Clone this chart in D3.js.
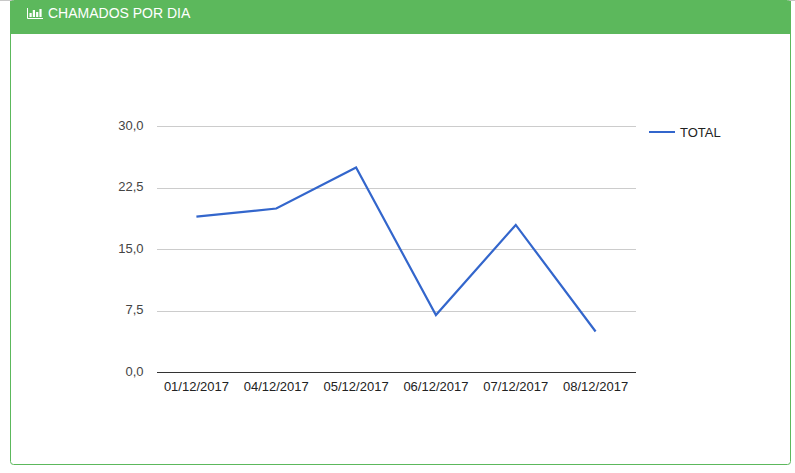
<!DOCTYPE html>
<html>
<head>
<meta charset="utf-8">
<script src="https://cdn.jsdelivr.net/npm/d3@7"></script>
<style>
  html, body { margin: 0; padding: 0; background: #fff; overflow: hidden; }
  text { font-family: "Liberation Sans", Arial, sans-serif; }
</style>
</head>
<body>
<div id="chart"></div>
<script>
// chart values
const days = ["01/12/2017", "04/12/2017", "05/12/2017", "06/12/2017", "07/12/2017", "08/12/2017"];
const total = [19, 20, 25, 7, 18, 5];
const yTicks = [0, 7.5, 15, 22.5, 30];
const seriesName = "TOTAL";
const panelTitle = "CHAMADOS POR DIA";
const iconBars = [4, 7, 5, 8];

const fullWidth = 795;
const fullHeight = 473;
const margin = { top: 126, right: 159, bottom: 101, left: 157 };
const width = fullWidth - margin.left - margin.right;
const height = fullHeight - margin.top - margin.bottom;

const svg = d3.select("#chart")
  .append("svg")
  .attr("width", fullWidth)
  .attr("height", fullHeight)
  .style("display", "block");

// strip of the page above the panel
svg.append("rect")
  .attr("width", fullWidth)
  .attr("height", 1)
  .attr("fill", "#c8c8c8");

// panel
svg.append("rect")
  .attr("x", 10.5)
  .attr("y", 0.5)
  .attr("width", 780)
  .attr("height", 464)
  .attr("rx", 3)
  .attr("fill", "#fff")
  .attr("stroke", "#5cb85c");

svg.append("rect")
  .attr("x", 10)
  .attr("y", 1)
  .attr("width", 781)
  .attr("height", 33)
  .attr("fill", "#5cb85c");

// bar chart icon in the header
const icon = svg.append("g").attr("transform", "translate(27,18)");
icon.append("path")
  .attr("d", "M0.5,-10V0.5H16")
  .attr("fill", "none")
  .attr("stroke", "#fff")
  .attr("stroke-width", 1);
icon.selectAll("rect")
  .data(iconBars)
  .enter()
  .append("rect")
  .attr("x", (d, i) => 2.5 + i * 3.3)
  .attr("y", d => -1 - d)
  .attr("width", 2.2)
  .attr("height", d => d)
  .attr("fill", "#fff");

svg.append("text")
  .attr("x", 48)
  .attr("y", 18)
  .attr("fill", "#fff")
  .attr("font-size", 14)
  .text(panelTitle);

const g = svg.append("g")
  .attr("transform", "translate(" + margin.left + "," + margin.top + ")");

const x = d3.scalePoint()
  .domain(days)
  .range([0, width])
  .padding(0.5);

const y = d3.scaleLinear()
  .domain([0, 30])
  .range([height, 0]);

const formatTick = d => d.toFixed(1).replace(".", ",");

// gridlines
g.selectAll(".grid")
  .data(yTicks.filter(d => d !== 0))
  .enter()
  .append("line")
  .attr("class", "grid")
  .attr("x1", 0)
  .attr("x2", width)
  .attr("y1", d => Math.round(y(d)) + 0.5)
  .attr("y2", d => Math.round(y(d)) + 0.5)
  .attr("stroke", "#cccccc");

// y axis, labels only
const yAxis = g.append("g")
  .call(d3.axisLeft(y).tickValues(yTicks).tickFormat(formatTick).tickSize(0).tickPadding(13));
yAxis.select(".domain").remove();
yAxis.selectAll("text")
  .attr("font-size", 13)
  .attr("fill", "#444444")
  .attr("dx", -0.5)
  .attr("dy", "0.25em")
  .style("font-family", '"Liberation Sans", Arial, sans-serif');

// x axis
const xAxis = g.append("g")
  .attr("transform", "translate(0," + height + ")")
  .call(d3.axisBottom(x).tickSize(0).tickPadding(10));
xAxis.select(".domain")
  .attr("stroke", "#333333")
  .attr("d", "M0,0.5H" + width);
xAxis.selectAll("text")
  .attr("font-size", 13)
  .attr("fill", "#222222")
  .attr("dx", -1)
  .style("font-family", '"Liberation Sans", Arial, sans-serif');

// line
const line = d3.line()
  .x((d, i) => x(days[i]))
  .y(d => y(d));

g.append("path")
  .datum(total)
  .attr("transform", "translate(-0.5,0.5)")
  .attr("d", line)
  .attr("fill", "none")
  .attr("stroke", "#3366cc")
  .attr("stroke-width", 2.2);

// legend
svg.append("line")
  .attr("x1", 649)
  .attr("x2", 675)
  .attr("y1", 132)
  .attr("y2", 132)
  .attr("stroke", "#3366cc")
  .attr("stroke-width", 2);

svg.append("text")
  .attr("x", 680)
  .attr("y", 137)
  .attr("font-size", 13)
  .attr("fill", "#222222")
  .text(seriesName);
</script>
</body>
</html>
